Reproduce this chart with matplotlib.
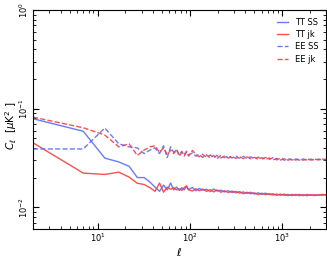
import matplotlib
matplotlib.use("Agg")
import matplotlib.pyplot as plt
import numpy as np

# multipole bins
ell = [2, 7, 12, 17, 22, 27, 32, 37, 42, 47, 52, 57, 62, 67, 72, 77, 82, 87, 92, 97,
       107, 117, 127, 137, 152, 167, 182, 197, 217, 237, 262, 287, 317, 347, 382, 417,
       457, 502, 552, 602, 662, 727, 797, 877, 962, 1057, 1162, 1277, 1402, 1542, 1697,
       1867, 2052, 2257, 2482, 2732, 2997]

tt_ss = [0.079, 0.059, 0.0315, 0.0288, 0.026, 0.020, 0.020, 0.018, 0.016, 0.0145,
         0.0168, 0.0150, 0.0176, 0.0150, 0.0160, 0.0148, 0.0158, 0.0150, 0.0162, 0.0152,
         0.0158, 0.0147, 0.0155, 0.0149, 0.0152, 0.0144, 0.0153, 0.0146, 0.0149, 0.0143,
         0.0147, 0.0141, 0.0145, 0.0139, 0.0143, 0.0138, 0.0142, 0.0136, 0.0140, 0.0135,
         0.0139, 0.0134, 0.0137, 0.0132, 0.0136, 0.0132, 0.0135, 0.0131, 0.0135, 0.0131,
         0.0134, 0.0131, 0.0134, 0.0131, 0.0134, 0.0132, 0.0134]
tt_jk = [0.045, 0.0222, 0.0215, 0.0227, 0.0202, 0.0175, 0.0170, 0.0158, 0.0145, 0.0176,
         0.0142, 0.0160, 0.0152, 0.0158, 0.0150, 0.0154, 0.0148, 0.0158, 0.0165, 0.0150,
         0.0146, 0.0154, 0.0147, 0.0153, 0.0145, 0.0151, 0.0143, 0.0150, 0.0142, 0.0147,
         0.0141, 0.0146, 0.0140, 0.0144, 0.0137, 0.0142, 0.0137, 0.0140, 0.0134, 0.0139,
         0.0134, 0.0137, 0.0133, 0.0136, 0.0132, 0.0136, 0.0131, 0.0135, 0.0132, 0.0135,
         0.0131, 0.0135, 0.0132, 0.0134, 0.0132, 0.0135, 0.0133]
ee_ss = [0.039, 0.039, 0.0636, 0.044, 0.041, 0.040, 0.035, 0.038, 0.040, 0.035,
         0.042, 0.032, 0.041, 0.036, 0.038, 0.034, 0.037, 0.033, 0.036, 0.034,
         0.0355, 0.033, 0.0345, 0.032, 0.034, 0.0315, 0.0335, 0.031, 0.0335, 0.0318,
         0.0332, 0.0316, 0.033, 0.0314, 0.0328, 0.0312, 0.0325, 0.031, 0.0322, 0.0308,
         0.032, 0.0306, 0.0318, 0.0302, 0.0315, 0.0300, 0.0312, 0.0301, 0.0310, 0.0300,
         0.0309, 0.0301, 0.0308, 0.0300, 0.0308, 0.0302, 0.0306]
ee_jk = [0.082, 0.064, 0.054, 0.041, 0.044, 0.0335, 0.038, 0.041, 0.042, 0.036,
         0.040, 0.034, 0.038, 0.035, 0.039, 0.033, 0.036, 0.034, 0.037, 0.033,
         0.0377, 0.034, 0.0325, 0.0345, 0.0322, 0.0338, 0.0318, 0.0335, 0.0316, 0.0330,
         0.0315, 0.0328, 0.0313, 0.0326, 0.0311, 0.0324, 0.0310, 0.0320, 0.0306, 0.0318,
         0.0305, 0.0316, 0.0302, 0.0313, 0.0301, 0.0311, 0.0300, 0.0310, 0.0301, 0.0309,
         0.0300, 0.0308, 0.0301, 0.0307, 0.0302, 0.0308, 0.0304]

fig = plt.figure(figsize=(3.27, 2.58), dpi=100)
ax = fig.add_axes([0.101, 0.112, 0.896, 0.849])

blue = '#5a6cff'
red = '#ff3c3c'
ax.plot(ell, tt_ss, '-', color=blue, lw=1.0, alpha=0.9, label='TT SS')
ax.plot(ell, tt_jk, '-', color=red, lw=1.0, alpha=0.9, label='TT jk')
ax.plot(ell, ee_ss, '--', color=blue, lw=1.0, alpha=0.9, label='EE SS')
ax.plot(ell, ee_jk, '--', color=red, lw=1.0, alpha=0.9, label='EE jk')

ax.set_xscale('log')
ax.set_yscale('log')
ax.set_xlim(2, 3000)
ax.set_ylim(0.006, 1)
ax.tick_params(which='both', direction='in', top=True, right=True, labelsize=6, pad=2)
ax.tick_params(which='major', length=4)
ax.tick_params(which='minor', length=2)
for lab in ax.get_yticklabels():
    lab.set_rotation(90)
    lab.set_va('center')
ax.set_xlabel(r'$\ell$', fontsize=8, labelpad=1)
ax.set_ylabel(r'$C_\ell\ \ [\mu\mathrm{K}^2\ ]$', fontsize=7.5)
ax.yaxis.set_label_coords(-0.048, 0.47)

ax.legend(loc='upper right', frameon=False, fontsize=6, handlelength=1.3,
          handletextpad=0.8, labelspacing=0.4)

fig.savefig('out.png', dpi=100)
plt.close(fig)
